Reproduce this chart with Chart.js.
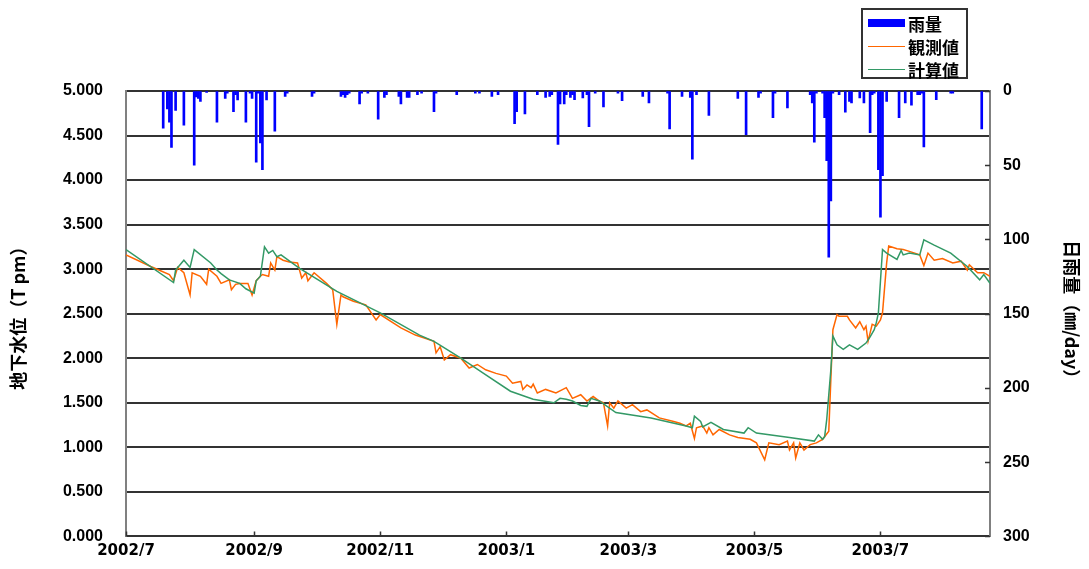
<!DOCTYPE html>
<html>
<head>
<meta charset="utf-8">
<script src="https://cdn.jsdelivr.net/npm/chart.js@4/dist/chart.umd.min.js"></script>
<style>
html,body{margin:0;padding:0;background:#fff;}
#wrap{position:relative;width:1089px;height:569px;}
#legend{position:absolute;left:861px;top:8px;width:107px;height:71px;border:2px solid #333;background:#fff;box-sizing:border-box;font:bold 17px "Noto Sans CJK JP",sans-serif;color:#000;}
.row{position:absolute;left:5px;height:20px;display:flex;align-items:center;}
.sw{width:37px;margin-right:3px;}
</style>
</head>
<body>
<div id="wrap">
<canvas id="c" width="1089" height="569"></canvas>
<div id="legend">
  <div class="row" style="top:3px"><div class="sw" style="height:8px;background:#0000FF"></div><span>雨量</span></div>
  <div class="row" style="top:26px"><div class="sw" style="height:1px;background:#FF6600"></div><span>観測値</span></div>
  <div class="row" style="top:49px"><div class="sw" style="height:1px;background:#339966"></div><span>計算値</span></div>
</div>
</div>
<script>
// x axis: days since 2002/7/1
const tickDays   = [0, 62, 123, 184, 243, 304, 365];
const tickLabels = ['2002/7', '2002/9', '2002/11', '2003/1', '2003/3', '2003/5', '2003/7'];

// daily rainfall (mm/day), non-zero days only
const rainDays = [18,20,21,22,24,28,33,34,35,36,39,44,48,49,52,53,54,58,60,61,63,64,65,66,68,72,77,78,90,91,
  104,105,106,107,108,113,114,117,122,125,126,132,133,136,137,141,143,149,150,160,169,171,177,180,188,189,193,199,203,205,206,209,
  210,212,213,215,216,217,221,223,224,227,231,238,240,250,253,262,263,269,273,274,276,282,296,300,306,307,313,314,320,
  331,332,333,334,337,338,339,340,341,342,345,348,350,351,355,357,360,361,362,364,365,366,368,374,377,380,383,384,385,386,392,399,400,414];
const rainMm = [25,12,21,38,13,23,50,4,5,7,1,21,5,1.5,14,2.5,6,21,1.5,5,48,1.5,35,53,6,27,3.6,1.5,3.6,1.5,
  3.6,2.5,4.3,2.5,1.5,8.7,1.5,1.5,19,4.3,2.5,3.6,8.7,4.3,4.3,2.5,1.5,14,1.5,2.5,1.5,1.5,3.6,2.5,22,14,15.5,2.5,4.3,3.6,2.5,36,
  8.7,8.7,2.5,4.3,2.5,5.8,4.7,2.5,24,1.5,10.8,1.5,6.5,3.6,8,1.5,25.5,3.6,4.3,46,2.5,16.4,5,29.4,4.3,1.5,18,1.5,11.4,
  2.5,8,34.5,1.5,1.5,18,47,112,74,1.5,2.5,14.3,7,8,4.7,8,28,2.5,1.5,53,85,57,7,18,8,9.5,2.5,2.5,1.5,37.7,5.8,1.5,1.5,25.5];

// observed groundwater level (T.P. m)
const obsDays = [0,12,21,23,25,28,31,32,36,39,40,44,46,50,51,53,55,59,61,63,65,66,69,70,72,73,76,79,83,85,87,88,91,97,100,102,104,105,110,116,121,123,133,140,
  144,149,150,152,154,157,162,166,170,174,179,184,187,191,192,194,196,197,199,203,208,213,216,220,223,226,229,231,233,234,236,238,242,245,249,252,258,265,268,271,273,275,276,
  279,281,282,284,287,292,296,302,305,309,311,316,320,321,323,324,326,328,331,334,337,340,341,342,344,345,349,350,353,355,357,358,359,361,363,365,366,368,369,373,376,379,384,386,388,391,395,400,404,407,408,412,415,418];
const obsVals = [3.16,3.03,2.94,2.87,3.02,2.96,2.71,2.96,2.92,2.83,3.0,2.92,2.84,2.88,2.77,2.83,2.84,2.84,2.71,2.87,2.92,2.94,2.92,3.07,2.99,3.14,3.1,3.08,3.07,2.9,2.96,2.87,2.96,2.84,2.77,2.38,2.71,2.69,2.64,2.6,2.43,2.49,2.34,2.26,
  2.23,2.19,2.06,2.13,1.98,2.04,2.0,1.89,1.93,1.87,1.83,1.8,1.72,1.74,1.65,1.7,1.67,1.71,1.61,1.65,1.61,1.67,1.55,1.59,1.52,1.57,1.52,1.5,1.24,1.5,1.44,1.52,1.44,1.48,1.4,1.42,1.33,1.29,1.27,1.24,1.27,1.1,1.22,
  1.24,1.16,1.22,1.14,1.2,1.14,1.11,1.09,1.05,0.86,1.05,1.03,1.07,0.97,1.05,0.88,1.05,0.97,1.03,1.05,1.09,1.18,1.76,2.32,2.49,2.47,2.47,2.43,2.34,2.41,2.32,2.36,2.19,2.38,2.36,2.43,2.51,3.07,3.26,3.23,3.22,3.2,3.16,3.04,3.18,3.1,3.12,3.07,3.09,2.99,3.05,2.96,2.96,2.92];

// computed groundwater level (T.P. m)
const calcDays = [0,23,24,28,31,33,41,44,46,50,55,58,62,63,65,67,69,71,73,75,84,102,123,142,149,162,173,186,197,207,210,213,216,220,223,225,229,237,254,271,274,275,
  278,279,283,289,299,301,305,321,333,335,337,338,339,341,342,344,347,350,354,358,360,362,363,364,366,368,373,375,376,379,384,386,391,399,407,413,415,418];
const calcVals = [3.22,2.85,2.99,3.1,3.02,3.22,3.07,2.99,2.95,2.88,2.84,2.78,2.73,2.87,2.92,3.25,3.18,3.21,3.14,3.16,3.01,2.75,2.51,2.26,2.19,2.0,1.83,1.63,1.54,1.5,1.55,1.54,1.52,1.47,1.46,1.55,1.52,1.39,1.33,1.24,1.22,1.35,
  1.29,1.23,1.28,1.2,1.16,1.22,1.16,1.11,1.07,1.14,1.09,1.12,1.31,1.87,2.25,2.15,2.1,2.15,2.1,2.17,2.24,2.32,2.4,2.51,3.22,3.18,3.11,3.21,3.16,3.18,3.16,3.33,3.27,3.18,3.03,2.88,2.94,2.84];

const zip = (xs, ys) => xs.map((x, i) => ({x, y: ys[i]}));

const innerTicks = {
  id: 'innerTicks',
  afterDraw(chart) {
    const {ctx, chartArea: a, scales} = chart;
    ctx.save();
    ctx.strokeStyle = '#333';
    ctx.lineWidth = 1.5;
    ctx.beginPath();
    scales.x.ticks.forEach(t => {
      const px = Math.round(scales.x.getPixelForValue(t.value)) + 0.5;
      ctx.moveTo(px, a.bottom); ctx.lineTo(px, a.bottom - 5);
    });
    scales.y2.ticks.forEach(t => {
      const py = Math.round(scales.y2.getPixelForValue(t.value)) + 0.5;
      ctx.moveTo(a.right, py); ctx.lineTo(a.right - 5, py);
    });
    ctx.stroke();
    ctx.restore();
  }
};

new Chart(document.getElementById('c'), {
  type: 'line',
  data: {
    datasets: [
      {type: 'bar', label: '雨量', data: zip(rainDays, rainMm), yAxisID: 'y2', backgroundColor: '#0000FF', barThickness: 2, order: 3},
      {label: '観測値', data: zip(obsDays, obsVals), yAxisID: 'y', borderColor: '#FF6600', borderWidth: 1.5, pointRadius: 0, tension: 0, order: 2},
      {label: '計算値', data: zip(calcDays, calcVals), yAxisID: 'y', borderColor: '#339966', borderWidth: 1.5, pointRadius: 0, tension: 0, order: 1}
    ]
  },
  options: {
    responsive: false,
    animation: false,
    devicePixelRatio: 1,
    layout: {padding: {top: 91, left: 0, right: 0, bottom: 0}},
    plugins: {legend: {display: false}, tooltip: {enabled: false}},
    scales: {
      x: {
        type: 'linear', min: 0, max: 418, offset: false,
        afterFit: s => { s.height = 32; },
        afterBuildTicks: s => { s.ticks = tickDays.map(v => ({value: v})); },
        grid: {display: false, drawTicks: false, offset: false},
        border: {display: true, color: '#333', width: 2},
        ticks: {
          autoSkip: false, maxRotation: 0, padding: 6, color: '#000',
          font: {family: 'DejaVu Sans', weight: 'bold', size: 15},
          callback: v => tickLabels[tickDays.indexOf(v)]
        }
      },
      y: {
        position: 'left', min: 0, max: 5,
        afterFit: s => { s.width = 126; },
        grid: {color: '#333', lineWidth: 2, drawTicks: false},
        border: {display: true, color: '#808080', width: 2},
        ticks: {stepSize: 0.5, padding: 23, color: '#000',
          font: {family: 'Liberation Sans', weight: 'bold', size: 16},
          callback: v => v.toFixed(3)},
        title: {display: true, text: '地下水位（T pm）', color: '#000', padding: {top: 7, bottom: 0},
          font: {family: 'Noto Sans CJK JP', weight: 'bold', size: 18}}
      },
      y2: {
        position: 'right', min: 0, max: 300, reverse: true,
        afterFit: s => { s.width = 99; },
        grid: {drawOnChartArea: false, drawTicks: false},
        border: {display: true, color: '#808080', width: 2},
        ticks: {stepSize: 50, padding: 13, color: '#000',
          font: {family: 'Liberation Sans', weight: 'bold', size: 16}},
        title: {display: true, text: '日雨量（㎜/day）', color: '#000', padding: {top: 6, bottom: 0},
          font: {family: 'Noto Sans CJK JP', weight: 'bold', size: 18}}
      }
    }
  },
  plugins: [innerTicks]
});
</script>
</body>
</html>
